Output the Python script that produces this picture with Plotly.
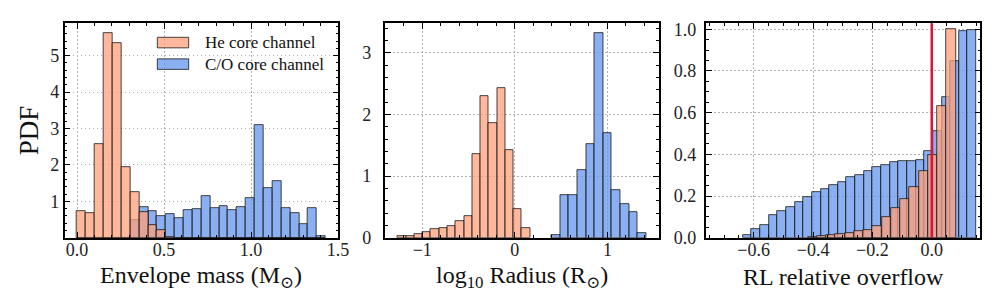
import numpy as np
import plotly.graph_objects as go

# ---------------- data (histogram heights, PDF) ----------------
# Panel 1: envelope mass, common bins
env_bin_lo, env_bin_hi, env_nbins = 0.0, 1.43, 28
he_env = [0.74, 0.69, 2.58, 5.61, 5.33, 1.93, 1.255, 0.71, 0.336, 0.205, 0.03,
          0, 0, 0, 0, 0, 0, 0, 0, 0, 0, 0, 0, 0, 0, 0, 0, 0]
co_env = [0, 0, 0, 0, 0, 0, 0.475, 0.843, 0.73, 0.588, 0.64, 0.53, 0.755, 0.79,
          1.15, 0.81, 0.86, 0.77, 0.84, 1.08, 3.09, 1.37, 1.55, 0.82, 0.69, 0.38,
          0.82, 0.04]

# Panel 2: log10 radius
he_rad_lo, he_rad_hi = -1.263, 0.166
he_rad = [0.023, 0.034, 0.06, 0.096, 0.138, 0.158, 0.194, 0.278, 0.355, 1.357,
          2.293, 1.859, 2.422, 1.419, 0.473, 0.163]
co_rad_lo, co_rad_hi = 0.397, 1.421
co_rad = [0.045, 0.69, 0.69, 1.10, 1.52, 3.316, 1.70, 0.774, 0.55, 0.41, 0.07]

# Panel 3: RL relative overflow
he_rl_lo, he_rl_hi = -0.418, 0.081
he_rl = [0.004, 0.008, 0.012, 0.017, 0.024, 0.032, 0.038, 0.055, 0.098, 0.142,
         0.185, 0.244, 0.318, 0.394, 0.632, 1.0]
co_rl_lo, co_rl_hi = -0.636, 0.150
co_rl = [0.012, 0.04, 0.063, 0.107, 0.127, 0.147, 0.171, 0.196, 0.217, 0.232,
         0.253, 0.269, 0.289, 0.301, 0.322, 0.337, 0.348, 0.365, 0.368, 0.368,
         0.373, 0.414, 0.51, 0.676, 0.849, 0.991, 0.997]

series_names = ["He core channel", "C/O core channel"]
x_titles = ["Envelope mass (M<sub>⊙</sub>)", "log<sub>10</sub> Radius (R<sub>⊙</sub>)",
            "RL relative overflow"]
y_title = "PDF"

# ---------------- style ----------------
FONT = "Liberation Serif, DejaVu Serif, serif"
HE_FILL = "rgba(255,160,122,0.75)"
CO_FILL = "rgba(100,149,237,0.75)"
EDGE = "rgba(25,25,25,0.8)"


def centers(lo, hi, n):
    w = (hi - lo) / n
    return [lo + (i + 0.5) * w for i in range(n)], w


fig = go.Figure()


def add_hist(vals, lo, hi, fill, xa, ya):
    c, w = centers(lo, hi, len(vals))
    fig.add_trace(go.Bar(x=c, y=vals, width=w, xaxis=xa, yaxis=ya,
                         marker=dict(color=fill, line=dict(color=EDGE, width=1)),
                         showlegend=False, hoverinfo="skip"))


add_hist(co_env, env_bin_lo, env_bin_hi, CO_FILL, "x", "y")
add_hist(he_env, env_bin_lo, env_bin_hi, HE_FILL, "x", "y")
add_hist(co_rad, co_rad_lo, co_rad_hi, CO_FILL, "x2", "y2")
add_hist(he_rad, he_rad_lo, he_rad_hi, HE_FILL, "x2", "y2")
add_hist(co_rl, co_rl_lo, co_rl_hi, CO_FILL, "x3", "y3")
add_hist(he_rl, he_rl_lo, he_rl_hi, HE_FILL, "x3", "y3")

W, H = 996, 303
ytop, ybot = 1 - 12.7 / H, 1 - 237.0 / H
doms = [(57.3 / W, 334.0 / W), (381.7 / W, 658.5 / W), (706.0 / W, 983.3 / W)]

common = dict(showline=True, linecolor="black", linewidth=1.5, mirror="allticks",
              ticks="inside", ticklen=6, tickwidth=1.2, tickcolor="black",
              showgrid=True, gridcolor="#b0b0b0", griddash="1.5px,2.5px", gridwidth=1,
              zeroline=False, tickfont=dict(family=FONT, size=18, color="#222"),
              layer="above traces")


def minor(d):
    return dict(tickmode="linear", tick0=0, dtick=d, ticks="inside", ticklen=3,
                tickwidth=1, tickcolor="black", showgrid=False)


fig.update_layout(
    width=W, height=H, margin=dict(l=0, r=0, t=0, b=0),
    font=dict(family=FONT, color="#111"),
    paper_bgcolor="white", plot_bgcolor="white", barmode="overlay", bargap=0,
    xaxis=dict(common, domain=doms[0], anchor="y", range=[-0.0715, 1.5015],
               tickmode="linear", tick0=0, dtick=0.5, tickformat=".1f",
               ticklabelstandoff=-5, minor=minor(0.1)),
    yaxis=dict(common, domain=[ybot, ytop], anchor="x", range=[0, 5.89],
               tickmode="array", tickvals=[1, 2, 3, 4, 5], ticksuffix="  ",
               minor=minor(0.2)),
    xaxis2=dict(common, domain=doms[1], anchor="y2", range=[-1.397, 1.56],
                tickmode="linear", tick0=0, dtick=1, ticklabelstandoff=-5, minor=minor(0.2)),
    yaxis2=dict(common, domain=[ybot, ytop], anchor="x2", range=[0, 3.48],
                tickmode="linear", tick0=0, dtick=1, ticksuffix="  ", minor=minor(0.2)),
    xaxis3=dict(common, domain=doms[2], anchor="y3", range=[-0.76, 0.164],
                tickmode="array", tickvals=[-0.6, -0.4, -0.2, 0.0], tickformat=".1f",
                ticklabelstandoff=-5, minor=minor(0.05)),
    yaxis3=dict(common, domain=[ybot, ytop], anchor="x3", range=[0, 1.029],
                tickmode="linear", tick0=0, dtick=0.2, tickformat=".1f",
                ticksuffix=" ", minor=minor(0.05)),
)

# red reference line at zero overflow
fig.add_shape(type="line", xref="x3", yref="y3 domain", x0=0, x1=0, y0=0, y1=1,
              line=dict(color="crimson", width=2.5), layer="above")

# axis titles
for (d0, d1), t in zip(doms, x_titles):
    fig.add_annotation(text=t, xref="paper", yref="paper", x=(d0 + d1) / 2, y=1 - 278 / H,
                       xanchor="center", yanchor="middle", showarrow=False,
                       font=dict(family=FONT, size=24, color="#111"))
fig.add_annotation(text=y_title, xref="paper", yref="paper", x=22 / W, y=(ytop + ybot) / 2,
                   textangle=-90, xanchor="center", yanchor="middle", showarrow=False,
                   font=dict(family=FONT, size=27, color="#111"))

# legend (panel 1)
for i, (name, fill) in enumerate(zip(series_names, [HE_FILL, CO_FILL])):
    yc = 1 - (33.0 + 22.5 * i) / H
    fig.add_shape(type="rect", xref="paper", yref="paper", x0=151 / W, x1=182.7 / W,
                  y0=yc - 5.5 / H, y1=yc + 5.5 / H,
                  fillcolor=fill, line=dict(color=EDGE, width=1))
    fig.add_annotation(text=name, xref="paper", yref="paper", x=196.7 / W, y=yc,
                       xanchor="left", yanchor="middle", showarrow=False,
                       font=dict(family=FONT, size=17, color="#111"))

fig.write_html("out.html")
